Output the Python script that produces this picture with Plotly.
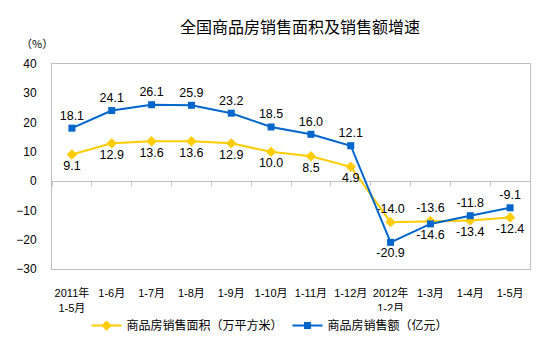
import plotly.graph_objects as go

categories = ["2011年<br>1-5月", "1-6月", "1-7月", "1-8月", "1-9月", "1-10月", "1-11月",
              "1-12月", "2012年<br>1-2月", "1-3月", "1-4月", "1-5月"]
area_growth = [9.1, 12.9, 13.6, 13.6, 12.9, 10.0, 8.5, 4.9, -14.0, -13.6, -13.4, -12.4]
sales_growth = [18.1, 24.1, 26.1, 25.9, 23.2, 18.5, 16.0, 12.1, -20.9, -14.6, -11.8, -9.1]
area_name = "商品房销售面积（万平方米）"
sales_name = "商品房销售额（亿元）"
y_ticks = [40, 30, 20, 10, 0, -10, -20, -30]

area_pos = ["top center" if i in (8, 9) else "bottom center" for i in range(len(categories))]
sales_pos = ["bottom center" if i in (8, 9) else "top center" for i in range(len(categories))]

num_font = dict(family="Liberation Sans, Arial", size=12.5, color="#000000")
cjk = "Noto Sans CJK SC"

fig = go.Figure()
fig.add_trace(go.Scatter(
    x=categories, y=area_growth, name=area_name, mode="lines+markers+text",
    line=dict(color="#FFCC00", width=2), marker=dict(symbol="diamond", size=8, color="#FFCC00"),
    text=[f"{v:.1f}" for v in area_growth], textposition=area_pos, textfont=num_font,
    cliponaxis=False))
fig.add_trace(go.Scatter(
    x=categories, y=sales_growth, name=sales_name, mode="lines+markers+text",
    line=dict(color="#0066CC", width=2), marker=dict(symbol="square", size=7, color="#0066CC"),
    text=[f"{v:.1f}" for v in sales_growth], textposition=sales_pos, textfont=num_font,
    cliponaxis=False))
# invisible trace to carry the tick-mark axis at y = 0
fig.add_trace(go.Scatter(x=categories, y=sales_growth, xaxis="x2", mode="markers",
                         marker=dict(opacity=0), showlegend=False, hoverinfo="skip"))

fig.update_layout(
    width=554, height=352,
    margin=dict(l=52, r=24, t=64, b=78),
    paper_bgcolor="white", plot_bgcolor="white",
    title=dict(text="全国商品房销售面积及销售额增速", x=300/554, xanchor="center",
               y=1-27/352, yanchor="middle", yref="container",
               font=dict(family=cjk, size=16, color="#000000")),
    xaxis=dict(type="category", showline=True, linecolor="#BFBFBF", linewidth=1, mirror=True,
               ticks="", showgrid=False, automargin=False, ticklabelstandoff=14,
               tickfont=dict(family="Liberation Sans, " + cjk, size=11, color="#000000"),
               range=[-0.5, 11.5]),
    xaxis2=dict(type="category", overlaying="x", anchor="free", position=3/7,
                showline=False, ticks="outside", ticklen=4, tickcolor="#BFBFBF",
                tickson="boundaries", showticklabels=False, showgrid=False,
                range=[-0.5, 11.5]),
    yaxis=dict(range=[-30, 40], tickvals=y_ticks, showline=True, linecolor="#BFBFBF",
               linewidth=1, mirror=True, showgrid=False, zeroline=True, zerolinecolor="#BFBFBF",
               zerolinewidth=1, ticks="", ticklabelstandoff=12, automargin=False,
               tickfont=dict(family="Liberation Sans, Arial", size=12, color="#000000")),
    legend=dict(orientation="h", x=0.456, xanchor="center", y=-0.276, yanchor="middle",
                font=dict(family=cjk, size=12, color="#000000"), itemwidth=30,
                traceorder="normal"),
    annotations=[dict(text="（%）", xref="paper", yref="paper", x=-0.031, y=1.1,
                      xanchor="center", yanchor="middle", showarrow=False,
                      font=dict(family=cjk, size=11, color="#000000"))],
    showlegend=True,
)

fig.write_html("out.html")
